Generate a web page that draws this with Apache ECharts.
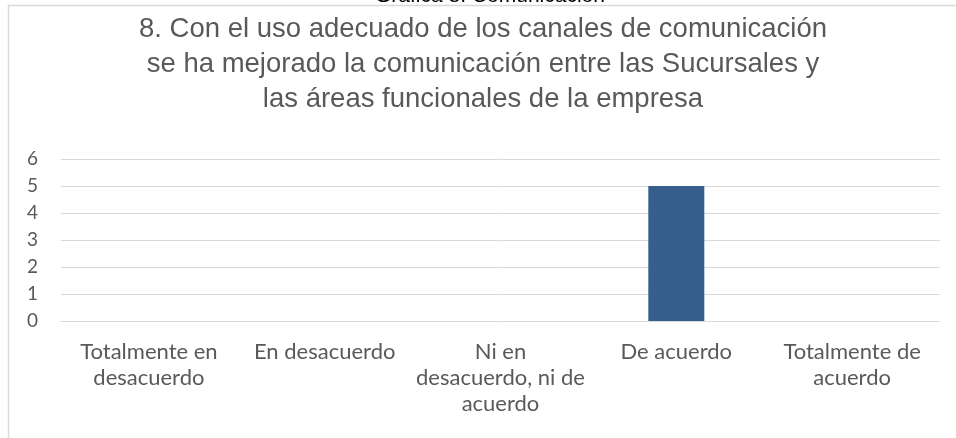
<!DOCTYPE html>
<html>
<head>
<meta charset="utf-8">
<script src="https://cdn.jsdelivr.net/npm/echarts@6/dist/echarts.min.js"></script>
<style>html,body{margin:0;padding:0;background:#fff;}#c{width:956px;height:438px;}</style>
</head>
<body>
<div id="c"></div>
<script>
const categories = ["Totalmente en\ndesacuerdo", "En desacuerdo", "Ni en\ndesacuerdo, ni de\nacuerdo", "De acuerdo", "Totalmente de\nacuerdo"];
const values = [0, 0, 0, 5, 0];
const yTicks = [0, 1, 2, 3, 4, 5, 6];
const titleText = "8. Con el uso adecuado de los canales de comunicación\nse ha mejorado la comunicación entre las Sucursales y\nlas áreas funcionales de la empresa";
const captionText = "Gráfica 8. Comunicación";

const chart = echarts.init(document.getElementById('c'), null, {renderer: 'canvas'});
chart.setOption({
  animation: false,
  backgroundColor: '#fff',
  title: {
    text: titleText,
    left: 478,
    top: 7,
    textAlign: 'center',
    textStyle: {
      fontFamily: 'Liberation Sans, Arial, sans-serif',
      fontSize: 27.5,
      fontWeight: 'normal',
      color: '#595959',
      lineHeight: 35
    }
  },
  graphic: [
    {type: 'rect', shape: {x: 8.5, y: 5.5, width: 1000, height: 500}, style: {fill: 'none', stroke: '#d9d9d9', lineWidth: 1.5}, silent: true},
    {type: 'text', x: 490, y: -4, style: {text: captionText, align: 'center', verticalAlign: 'middle', font: '21px "Liberation Sans", Arial, sans-serif', fill: '#000'}, silent: true}
  ],
  grid: {left: 61, right: 16, top: 159, bottom: 117, containLabel: false},
  xAxis: {
    type: 'category',
    data: categories,
    axisLine: {lineStyle: {color: '#d9d9d9', width: 1}},
    axisTick: {show: false},
    axisLabel: {
      interval: 0,
      margin: 18,
      fontFamily: 'Lato, sans-serif',
      fontSize: 22,
      color: '#595959',
      lineHeight: 26
    }
  },
  yAxis: {
    type: 'value',
    min: yTicks[0],
    max: yTicks[yTicks.length - 1],
    interval: 1,
    axisLine: {show: false},
    axisTick: {show: false},
    splitLine: {lineStyle: {color: '#d9d9d9', width: 1}},
    axisLabel: {
      margin: 23,
      fontFamily: 'Lato, sans-serif',
      fontSize: 19,
      color: '#595959'
    }
  },
  series: [{
    type: 'bar',
    data: values,
    barWidth: 56,
    itemStyle: {color: '#355e8d'}
  }]
});
</script>
</body>
</html>
